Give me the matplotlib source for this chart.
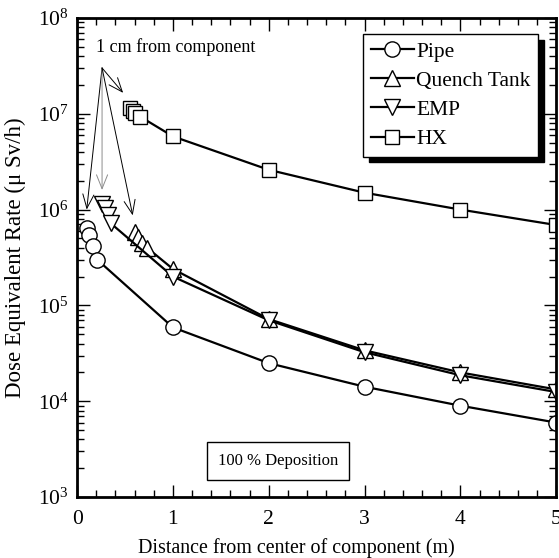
import matplotlib
matplotlib.use("Agg")
import matplotlib.pyplot as plt
from matplotlib.ticker import MultipleLocator, LogLocator, NullFormatter

plt.rcParams['font.family'] = ['Liberation Serif', 'DejaVu Serif']
plt.rcParams['mathtext.fontset'] = 'stix'

# data (distance in m, dose rate in uSv/h)
pipe_x = [0.10, 0.125, 0.17, 0.21, 1, 2, 3, 4, 5]
pipe_y = [6.4e5, 5.4e5, 4.2e5, 3.0e5, 5.9e4, 2.5e4, 1.42e4, 9.0e3, 6.0e3]

quench_x = [0.60, 0.64, 0.68, 0.73, 1, 2, 3, 4, 5]
quench_y = [5.9e5, 5.2e5, 4.5e5, 4.0e5, 2.4e5, 7.2e4, 3.4e4, 2.0e4, 1.33e4]

emp_x = [0.26, 0.29, 0.32, 0.35, 1, 2, 3, 4, 5]
emp_y = [1.15e6, 1.05e6, 8.8e5, 7.2e5, 2.0e5, 7.0e4, 3.25e4, 1.87e4, 1.25e4]

hx_x = [0.55, 0.58, 0.60, 0.66, 1, 2, 3, 4, 5]
hx_y = [1.15e7, 1.07e7, 1.02e7, 9.3e6, 5.8e6, 2.6e6, 1.5e6, 1.0e6, 6.9e5]

arrow_from = (0.26, 3.0e7)
arrow_tips = [(0.10, 1.0e6), (0.26, 1.6e6), (0.58, 8.7e5), (0.48, 1.65e7)]

fig = plt.figure(figsize=(5.59, 5.58), dpi=100)
ax = fig.add_axes([0.138, 0.109, 0.857, 0.859])

style = dict(color='k', lw=1.6, mfc='white', mec='k', mew=1.0, ms=11)
ax.plot(pipe_x, pipe_y, marker='o', label='Pipe', **style)
ax.plot(quench_x, quench_y, marker='^', label='Quench Tank', **style)
ax.plot(emp_x, emp_y, marker='v', label='EMP', **style)
ax.plot(hx_x, hx_y, marker='s', label='HX', **dict(style, ms=10))

for i, tip in enumerate(arrow_tips):
    col = '0.55' if i == 1 else 'k'
    ax.annotate('', xy=tip, xytext=arrow_from,
                arrowprops=dict(arrowstyle='->,head_length=1.0,head_width=0.4',
                                color=col, lw=0.7, shrinkA=0, shrinkB=0))
ax.text(0.2, 5.0e7, '1 cm from component', fontsize=13, va='center', ha='left')

ax.text(2.1, 2.4e3, '100 % Deposition', fontsize=12, ha='center', va='center',
        bbox=dict(boxstyle='square,pad=0.65', fc='white', ec='k', lw=1.0))

ax.set_yscale('log')
ax.set_xlim(0, 5)
ax.set_ylim(1e3, 1e8)
ax.xaxis.set_major_locator(MultipleLocator(1))
ax.xaxis.set_minor_locator(MultipleLocator(0.2))
ax.yaxis.set_major_locator(LogLocator(base=10, numticks=10))
ax.yaxis.set_minor_locator(LogLocator(base=10, subs=range(2, 10), numticks=20))
ax.yaxis.set_minor_formatter(NullFormatter())
ax.tick_params(which='both', direction='in', top=True, right=True, labelsize=15.5, width=1.0)
ax.tick_params(which='major', length=9)
ax.tick_params(axis='x', which='major', pad=9)
ax.tick_params(axis='y', which='major', pad=6)
ax.tick_params(which='minor', length=5)
for s in ax.spines.values():
    s.set_linewidth(2.0)

ax.set_xlabel('Distance from center of component (m)', fontsize=14.4)
ax.xaxis.set_label_coords(0.457, -0.085)
ax.set_ylabel('Dose Equivalent Rate (μ Sv/h)', fontsize=16.5)
ax.yaxis.set_label_coords(-0.106, 0.5)

leg = ax.legend(loc='upper right', bbox_to_anchor=(0.962, 0.966), fontsize=15.5,
                handlelength=2.0, handletextpad=0.1, borderpad=0.35, labelspacing=0.42,
                borderaxespad=0, fancybox=False, framealpha=1, edgecolor='k',
                shadow={'color': 'k', 'alpha': 1, 'ox': 4, 'oy': -4})
leg.get_frame().set_linewidth(1.0)

fig.savefig('out.png', dpi=100)
